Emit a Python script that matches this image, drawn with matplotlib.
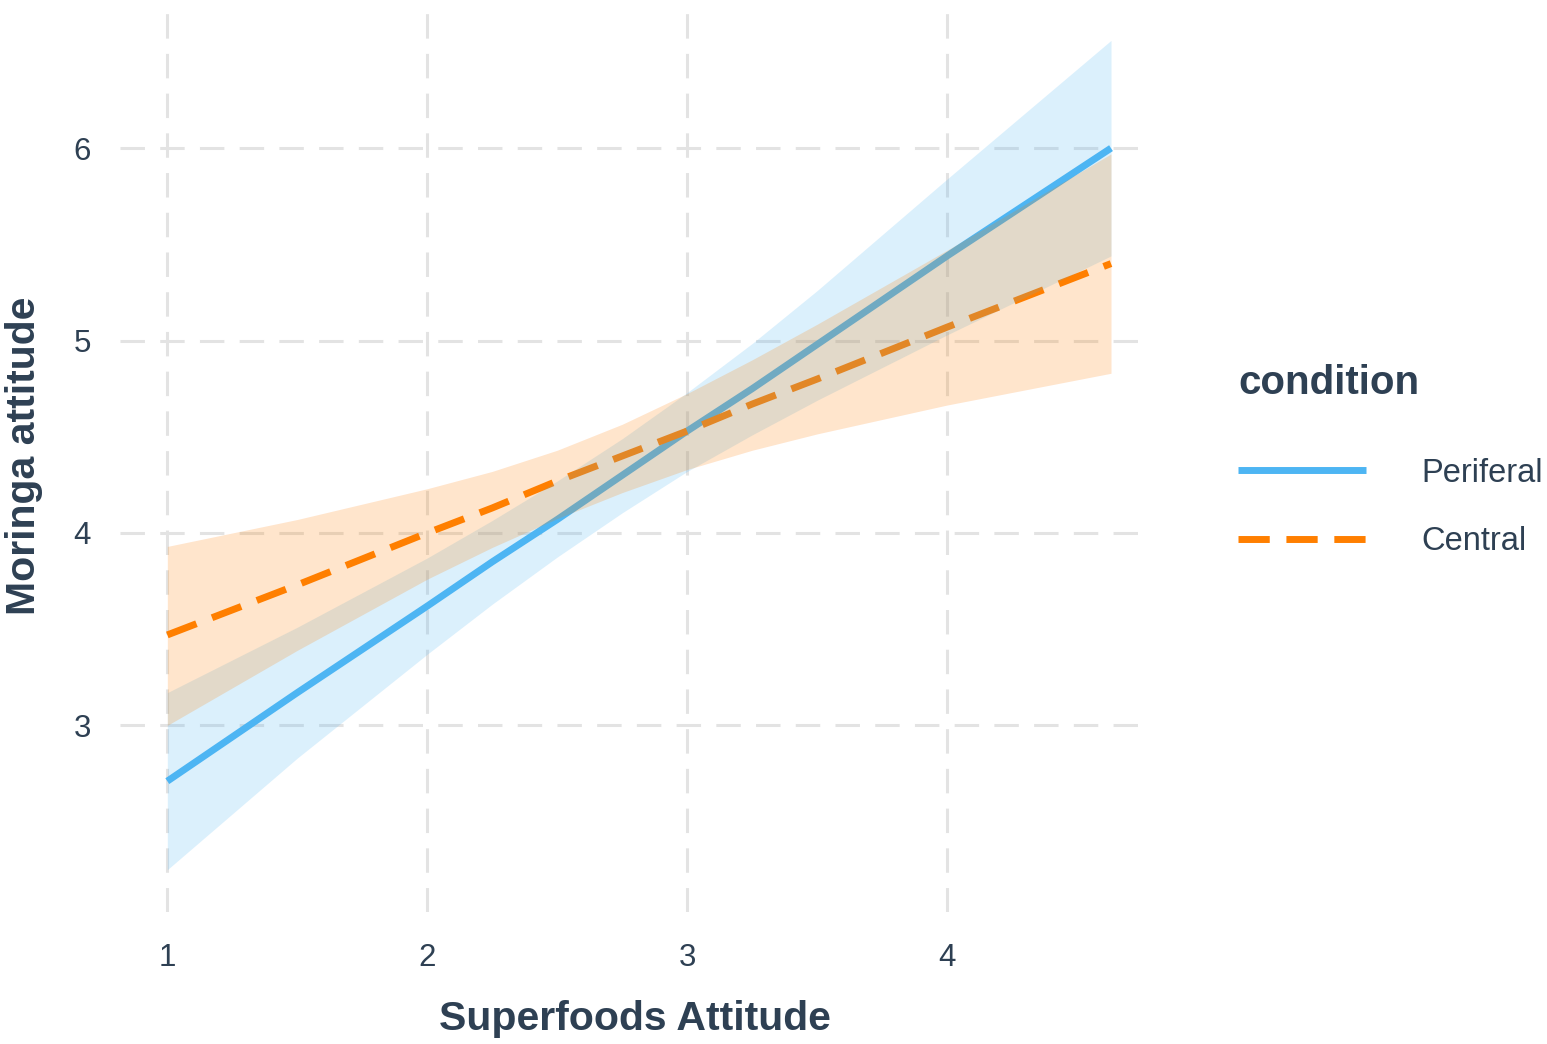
import numpy as np
import matplotlib
matplotlib.use("Agg")
import matplotlib.pyplot as plt

plt.rcParams['font.family'] = ['Liberation Sans', 'DejaVu Sans']

# values
x_pts = [1.0, 1.5, 2.0, 2.25, 2.5, 2.75, 3.0, 3.25, 3.5, 4.0, 4.63]

periferal_fit = [2.71, 3.17, 3.62, 3.85, 4.07, 4.30, 4.53, 4.75, 4.98, 5.44, 6.00]
periferal_hi = [3.17, 3.51, 3.87, 4.065, 4.27, 4.49, 4.73, 4.985, 5.26, 5.84, 6.56]
periferal_lo = [2.25, 2.83, 3.37, 3.63, 3.875, 4.105, 4.32, 4.51, 4.69, 5.03, 5.44]

central_fit = [3.47, 3.73, 4.00, 4.13, 4.27, 4.40, 4.53, 4.67, 4.80, 5.07, 5.40]
central_hi = [3.93, 4.07, 4.23, 4.32, 4.43, 4.565, 4.725, 4.90, 5.085, 5.47, 5.97]
central_lo = [3.00, 3.39, 3.76, 3.925, 4.075, 4.21, 4.33, 4.43, 4.515, 4.665, 4.83]

x_ticks = [1, 2, 3, 4]
y_ticks = [3, 4, 5, 6]

blue = '#4DB5F3'
orange = '#FF7F00'
txt = '#2E4053'

fig = plt.figure(figsize=(15.47, 10.44), dpi=100)
ax = fig.add_axes([120 / 1547, 1 - 912 / 1044, (1150 - 120) / 1547, 912 / 1044])

# lines first, ribbons on top (as in the reference)
ax.plot(x_pts, periferal_fit, color=blue, lw=5, solid_capstyle='butt', zorder=2,
        label='Periferal')
ax.plot(x_pts, central_fit, color=orange, lw=5, dashes=(4.5, 2.4), zorder=2,
        label='Central')
ax.fill_between(x_pts, periferal_lo, periferal_hi, color=blue, alpha=0.2, lw=0, zorder=3)
ax.fill_between(x_pts, central_lo, central_hi, color=orange, alpha=0.2, lw=0, zorder=3)

ax.set_xlim(0.818, 4.78)
ax.set_ylim(2.03, 6.77)
ax.set_xticks(x_ticks)
ax.set_yticks(y_ticks)
ax.grid(True, color='#E3E3E3', lw=2.2, dashes=(8, 5), zorder=0)
ax.set_axisbelow(True)
for s in ax.spines.values():
    s.set_visible(False)
ax.tick_params(length=0, labelsize=22.5, colors=txt)
ax.tick_params(axis='y', pad=21)
ax.tick_params(axis='x', pad=22)

ax.set_xlabel('Superfoods Attitude', fontsize=29.5, fontweight='bold', color=txt, labelpad=20)
ax.set_ylabel('Moringa attitude', fontsize=29.5, fontweight='bold', color=txt, labelpad=22)

leg = ax.legend(loc='upper left', bbox_to_anchor=(1222 / 1547, 1 - 348 / 1044),
                bbox_transform=fig.transFigure, frameon=False, fontsize=23.5,
                title='condition', title_fontproperties={'weight': 'bold', 'size': 29},
                handlelength=3.9, handletextpad=1.7, labelspacing=1.15,
                borderpad=0, alignment='left')
leg.get_title().set_color(txt)
for t in leg.get_texts():
    t.set_color(txt)
leg._legend_box.sep = 40

fig.savefig('out.png', dpi=100)
